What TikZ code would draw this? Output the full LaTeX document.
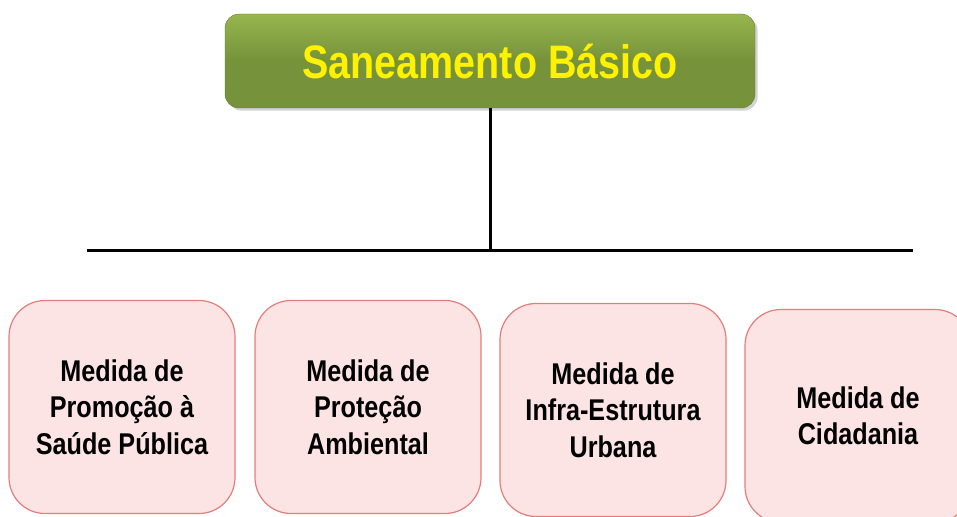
\documentclass[tikz,border=0pt]{standalone}
\usepackage{fontspec}
\setmainfont{Liberation Sans}
\newfontfamily\narrowsans[FakeStretch=0.84]{Liberation Sans}
\usetikzlibrary{positioning, shadows}
\definecolor{greenlight}{RGB}{150,182,78}
\definecolor{greendark}{RGB}{118,146,58}
\definecolor{pinkfill}{RGB}{252,228,228}
\definecolor{pinkedge}{RGB}{228,124,124}
\tikzstyle{head}=[draw=greendark!85!black, rounded corners=14pt, top color=greenlight, bottom color=greendark, middle color=greendark, text=yellow, font=\narrowsans\fontsize{47}{56}\selectfont\bfseries, minimum width=530pt, minimum height=94pt, drop shadow={opacity=0.35}]
\tikzstyle{measure}=[draw=pinkedge, line width=1.2pt, fill=pinkfill, rounded corners=36pt, minimum width=226pt, minimum height=213pt, align=center, font=\narrowsans\fontsize{30}{36.5}\selectfont\bfseries]
\tikzstyle{bar}=[line width=3pt]

\begin{document}
\begin{tikzpicture}[x=1pt, y=-1pt]
    \useasboundingbox (0,0) rectangle (957,516);
    \clip (0,0) rectangle (957,516);

    \node [head](S) at (490,61) {Saneamento Básico};

    \coordinate (BL) at (87,250);
    \coordinate (BR) at (913,250);
    \coordinate (BM) at (490,250);

    \node [measure](M1) at (122,407) {Medida de\\Promoção à\\Saúde Pública};
    \node [measure](M2) at (368,407) {Medida de\\Proteção\\Ambiental};
    \node [measure](M3) at (613,410) {Medida de\\Infra-Estrutura\\Urbana};
    \node [measure](M4) at (858,416) {Medida de\\Cidadania};

    \draw [bar] (S.south) -- (BM);
    \draw [bar] (BL) -- (BR);
\end{tikzpicture}
\end{document}
